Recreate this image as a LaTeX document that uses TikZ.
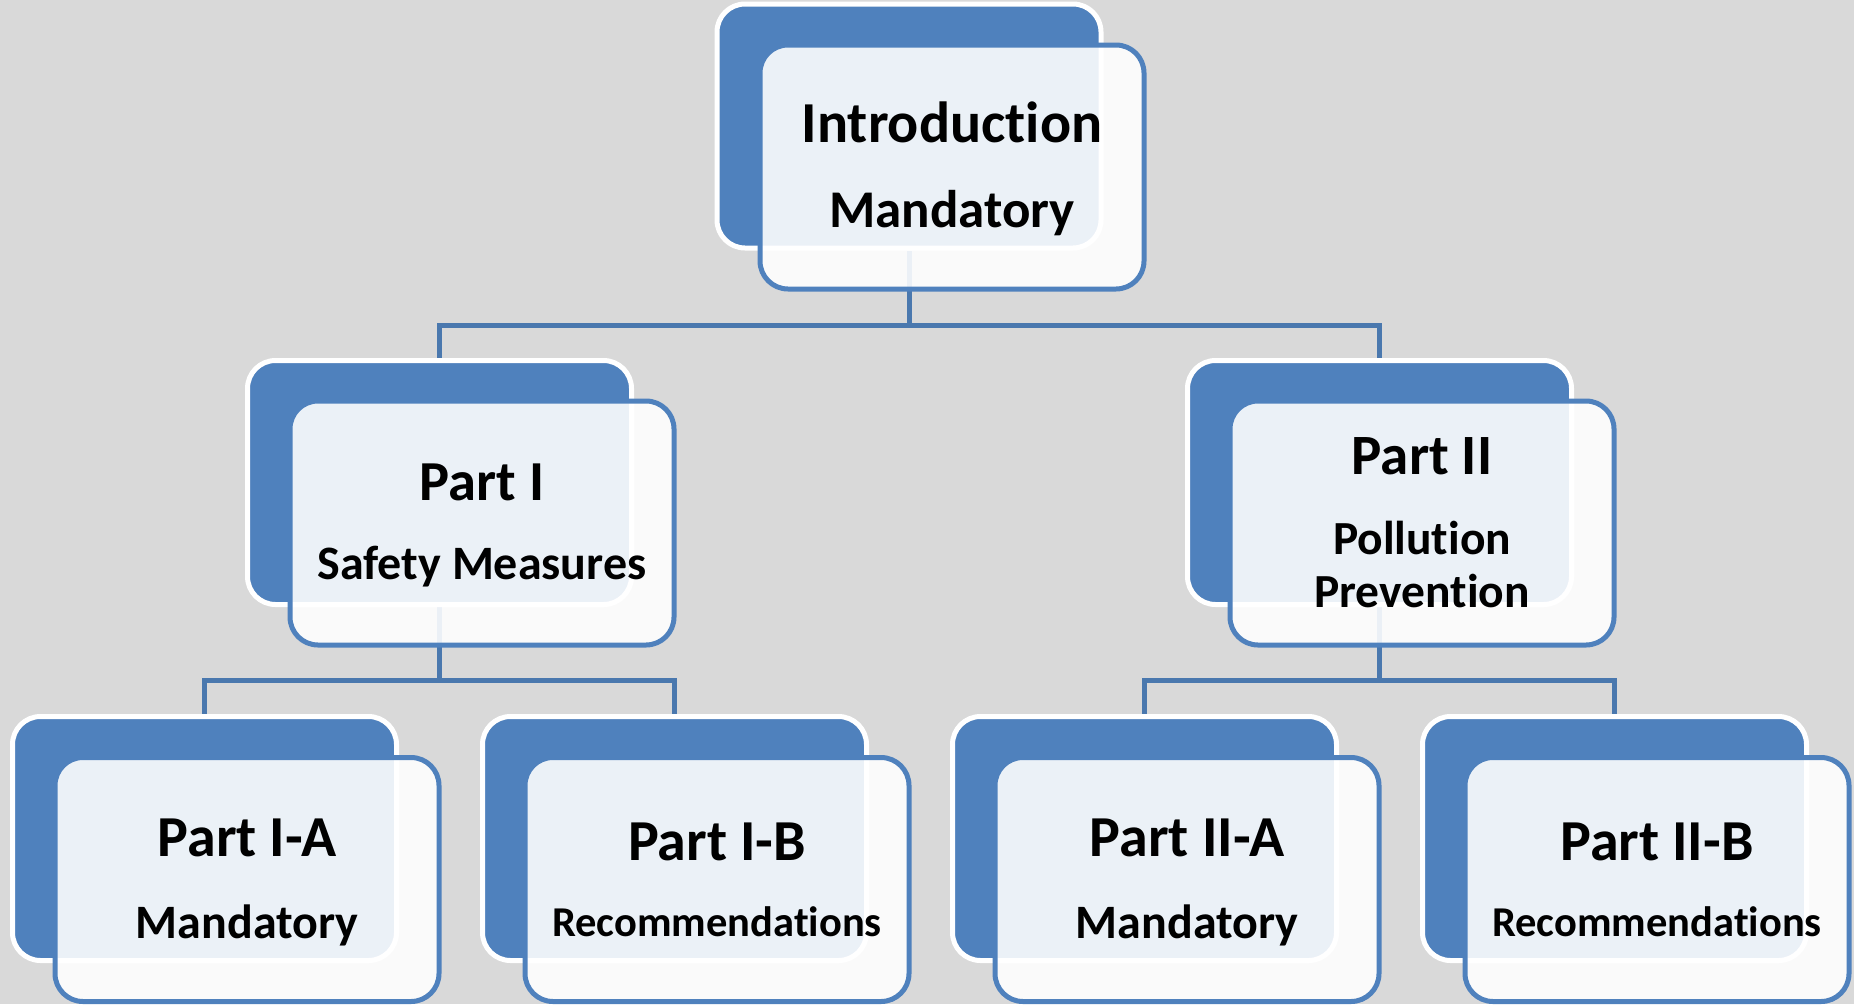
\documentclass[tikz,border=0pt]{standalone}
\usepackage{fontspec}
\setmainfont{Carlito}[Ligatures={NoCommon,NoContextual}]
\definecolor{bgc}{HTML}{D9D9D9}
\definecolor{acc}{HTML}{4F81BD}
\definecolor{connc}{HTML}{4A78AE}
\pgfdeclarelayer{backlayer}
\pgfdeclarelayer{linelayer}
\pgfsetlayers{backlayer,linelayer,main}
\tikzset{
  backbox/.style={rectangle, rounded corners=28pt, minimum width=384pt, minimum height=244pt,
    fill=acc, draw=white, line width=5pt, inner sep=0pt},
  frontbox/.style={rectangle, rounded corners=28pt, minimum width=384pt, minimum height=244pt,
    fill=white, fill opacity=0.89, draw=acc, draw opacity=1, line width=5pt, inner sep=0pt},
  lbl/.style={anchor=base, inner sep=0pt},
  connline/.style={draw=connc, line width=5pt},
}
\newcommand{\fs}[1]{\bfseries\fontsize{#1}{#1}\selectfont}
\begin{document}
\begin{tikzpicture}[x=1pt,y=-1pt]
\useasboundingbox (0,0) rectangle (1854,1004);
\begin{pgfonlayer}{backlayer}
\fill[bgc] (0,0) rectangle (1854,1004);
\end{pgfonlayer}
% back boxes
\node[backbox] (introB) at (909,126) {};
\node[backbox] (p1B) at (439.5,482.5) {};
\node[backbox] (p2B) at (1379.5,482.5) {};
\node[backbox] (p1aB) at (204.5,838.5) {};
\node[backbox] (p1bB) at (674.5,838.5) {};
\node[backbox] (p2aB) at (1144.5,838.5) {};
\node[backbox] (p2bB) at (1614.5,838.5) {};
% front boxes
\node[frontbox] (introF) at (952,167) {};
\node[frontbox] (p1F) at (482,523) {};
\node[frontbox] (p2F) at (1422,523) {};
\node[frontbox] (p1aF) at (247,879.5) {};
\node[frontbox] (p1bF) at (717,879.5) {};
\node[frontbox] (p2aF) at (1187,879.5) {};
\node[frontbox] (p2bF) at (1657,879.5) {};
% connectors
\coordinate (j1) at (909,325);
\coordinate (j2) at (439.5,680);
\coordinate (j3) at (1379.5,680);
\begin{pgfonlayer}{linelayer}
\draw[connline] (introB.south) -- (j1);
\draw[connline] (p1B.north) |- (j1) -| (p2B.north);
\draw[connline] (p1B.south) -- (j2);
\draw[connline] (p1aB.north) |- (j2) -| (p1bB.north);
\draw[connline] (p2B.south) -- (j3);
\draw[connline] (p2aB.north) |- (j3) -| (p2bB.north);
\end{pgfonlayer}
% texts
\node[lbl, font=\fs{58}] (tIntro) at (952,142) {Introduction};
\node[lbl, font=\fs{53}] (tIntroM) at (952,227) {Mandatory};
\node[lbl, font=\fs{56.5}] (tP1) at (482,500.5) {Part I};
\node[lbl, font=\fs{48}] (tP1s) at (482,579) {Safety Measures};
\node[lbl, font=\fs{57}] (tP2) at (1422,474) {Part II};
\node[lbl, font=\fs{47.5}] (tP2s1) at (1422,554) {Pollution};
\node[lbl, font=\fs{47.5}] (tP2s2) at (1422,607) {Prevention};
\node[lbl, font=\fs{58}] (tP1a) at (247,856) {Part I-A};
\node[lbl, font=\fs{48}] (tP1am) at (247,938) {Mandatory};
\node[lbl, font=\fs{58}] (tP1b) at (717,860) {Part I-B};
\node[lbl, font=\fs{42.5}] (tP1br) at (717,936) {Recommendations};
\node[lbl, font=\fs{58}] (tP2a) at (1187,856) {Part II-A};
\node[lbl, font=\fs{48}] (tP2am) at (1187,938) {Mandatory};
\node[lbl, font=\fs{58}] (tP2b) at (1657,860) {Part II-B};
\node[lbl, font=\fs{42.5}] (tP2br) at (1657,936) {Recommendations};
\end{tikzpicture}
\end{document}
